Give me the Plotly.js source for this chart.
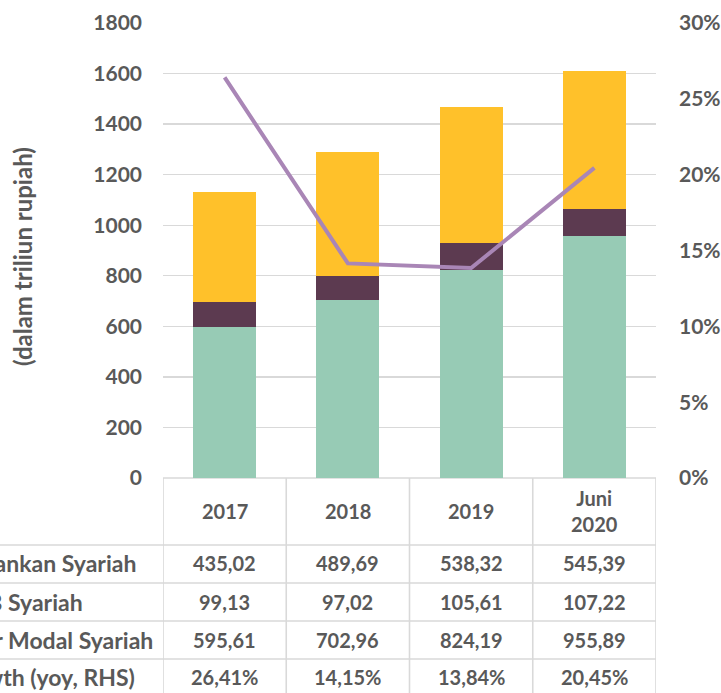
<!DOCTYPE html>
<html>
<head>
<meta charset="utf-8">
<script src="https://cdn.plot.ly/plotly-3.0.1.min.js"></script>
<style>html,body{margin:0;padding:0;background:#fff;overflow:hidden}</style>
</head>
<body>
<div id="chart" style="width:721px;height:693px"></div>
<script>
// ---- data ----
const categories = ["2017", "2018", "2019", "Juni 2020"];
const headerLabels = ["2017", "2018", "2019", "Juni<br>2020"];
const pasarModal = [595.61, 702.96, 824.19, 955.89];
const iknb = [99.13, 97.02, 105.61, 107.22];
const perbankan = [435.02, 489.69, 538.32, 545.39];
const growth = [26.41, 14.15, 13.84, 20.45];
const rowLabels = ["Perbankan Syariah", "IKNB Syariah", "Pasar Modal Syariah", "Growth (yoy, RHS)"];
const rowValues = [
  ["435,02", "489,69", "538,32", "545,39"],
  ["99,13", "97,02", "105,61", "107,22"],
  ["595,61", "702,96", "824,19", "955,89"],
  ["26,41%", "14,15%", "13,84%", "20,45%"]
];
const leftTicks = [0, 200, 400, 600, 800, 1000, 1200, 1400, 1600, 1800];
const rightTicks = [0, 5, 10, 15, 20, 25, 30];
const rightTickText = ["0%", "5%", "10%", "15%", "20%", "25%", "30%"];
const yTitle = "(dalam triliun rupiah)";

// ---- geometry helpers (pixel -> paper) ----
const W = 721, H = 693;
const M = {l: 163, r: 65, t: 23, b: 215};
const pw = W - M.l - M.r, ph = H - M.t - M.b;
const px = X => (X - M.l) / pw;
const py = Y => (H - M.b - Y) / ph;

const fontFam = "Lato, 'Open Sans', sans-serif";
const txtColor = "#595959";
const gridCol = "#D9D9D9";
const tFont = {family: fontFam, size: 20, color: txtColor, weight: "bold"};
const labFont = {family: fontFam, size: 23, color: txtColor, weight: "bold"};

const traces = [
  {type: "bar", name: "Pasar Modal Syariah", x: categories, y: pasarModal, marker: {color: "#97CBB5"}, hoverinfo: "skip"},
  {type: "bar", name: "IKNB Syariah", x: categories, y: iknb, marker: {color: "#5C3A50"}, hoverinfo: "skip"},
  {type: "bar", name: "Perbankan Syariah", x: categories, y: perbankan, marker: {color: "#FFC12A"}, hoverinfo: "skip"},
  {type: "scatter", mode: "lines", name: "Growth (yoy, RHS)", x: categories, y: growth, yaxis: "y2",
   line: {color: "#A986B6", width: 4}, hoverinfo: "skip"}
];

const annotations = [];
// header row (x = category index on the category axis)
headerLabels.forEach((t, i) => annotations.push({
  xref: "x", yref: "paper", x: i, y: py(511), text: t, showarrow: false,
  xanchor: "center", yanchor: "middle", font: tFont
}));
const rowY = [563, 602, 640, 677];
rowLabels.forEach((lab, r) => {
  annotations.push({
    xref: "paper", yref: "paper", x: px(-55), y: py(rowY[r]), text: lab, showarrow: false,
    xanchor: "left", yanchor: "middle", font: labFont
  });
  rowValues[r].forEach((v, i) => annotations.push({
    xref: "x", yref: "paper", x: i, y: py(rowY[r]), text: v, showarrow: false,
    xanchor: "center", yanchor: "middle", font: tFont
  }));
});
// y axis title
annotations.push({
  xref: "paper", yref: "paper", x: px(22), y: py(257), text: yTitle, textangle: -90, showarrow: false,
  xanchor: "center", yanchor: "middle", font: {family: fontFam, size: 24, color: txtColor, weight: "bold"}
});

// table grid lines
const shapes = [];
const lineStyle = {color: gridCol, width: 1.6};
[545, 583, 621, 659].forEach(Y => shapes.push({
  type: "line", xref: "paper", yref: "paper", x0: px(0), x1: 1, y0: py(Y), y1: py(Y), line: lineStyle, layer: "below"
}));
[-0.5, 0.5, 1.5, 2.5, 3.5].forEach(xv => shapes.push({
  type: "line", xref: "x", yref: "paper", x0: xv, x1: xv, y0: 0, y1: py(700), line: lineStyle, layer: "below"
}));
shapes.push({type: "line", xref: "paper", yref: "paper", x0: 0, x1: 1, y0: 0, y1: 0, line: lineStyle, layer: "below"});

const layout = {
  width: W, height: H,
  margin: M,
  paper_bgcolor: "#fff", plot_bgcolor: "#fff",
  font: tFont,
  barmode: "stack",
  bargap: 0.49,
  showlegend: false,
  xaxis: {type: "category", range: [-0.5, 3.5], showticklabels: false, showgrid: false, zeroline: false, ticks: "", fixedrange: true},
  yaxis: {range: [0, 1800], tickvals: leftTicks, showgrid: true, gridcolor: gridCol, gridwidth: 1.3, zeroline: false,
          showline: false, ticks: "", ticklabelstandoff: 20,
          tickfont: {family: fontFam, size: 21, color: txtColor, weight: "bold"}},
  yaxis2: {overlaying: "y", side: "right", range: [0, 30], tickvals: rightTicks, ticktext: rightTickText,
           showgrid: false, zeroline: false, showline: false, ticks: "", ticklabelstandoff: 22,
           tickfont: {family: fontFam, size: 21, color: txtColor, weight: "bold"}},
  annotations: annotations,
  shapes: shapes
};

Plotly.newPlot("chart", traces, layout, {displayModeBar: false, staticPlot: true});
</script>
</body>
</html>
